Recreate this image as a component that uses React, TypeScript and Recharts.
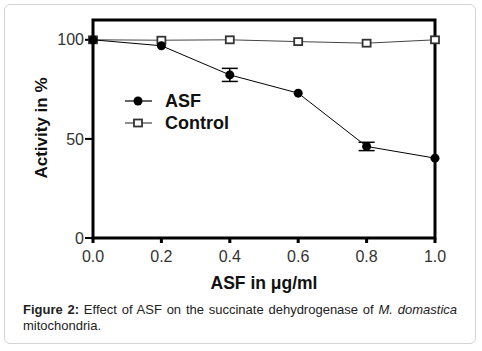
import React from "react";
import {
  LineChart,
  Line,
  XAxis,
  YAxis,
  ErrorBar,
  ReferenceArea,
  Legend,
  Label,
} from "recharts";

const doses = [0.0, 0.2, 0.4, 0.6, 0.8, 1.0];
const asfActivity = [100, 97, 82.3, 73.1, 46.2, 40.3];
const asfError = [0, 0, 3.3, 0, 2.1, 0];
const controlActivity = [100, 99.8, 100, 99.1, 98.3, 100];
const xTicks = [0, 0.2, 0.4, 0.6, 0.8, 1.0];
const yTicks = [0, 50, 100];

const data = doses.map((d, i) => ({
  dose: d,
  asf: asfActivity[i],
  asfErr: asfError[i],
  control: controlActivity[i],
}));

const FONT = '"Liberation Sans", Arial, sans-serif';

const SquareDot = (props: any) => {
  const { cx, cy, index } = props;
  if (cx == null || cy == null) return null;
  return (
    <rect
      key={`sq-${index}`}
      x={cx - 4}
      y={cy - 3.5}
      width={8}
      height={7}
      fill="#fff"
      stroke="#333"
      strokeWidth={1.8}
    />
  );
};

const LegendBox = () => {
  const rows = [
    { name: "ASF", square: false },
    { name: "Control", square: true },
  ];
  return (
    <div style={{ fontFamily: FONT }}>
      {rows.map((r) => (
        <div key={r.name} style={{ display: "flex", alignItems: "center", height: 22 }}>
          <svg width={30} height={12} style={{ marginRight: 11 }}>
            <line x1={1} y1={6} x2={28} y2={6} stroke={r.square ? "#444" : "#000"} strokeWidth={1.2} />
            {r.square ? (
              <rect x={10} y={2.5} width={8} height={7} fill="#fff" stroke="#333" strokeWidth={1.8} />
            ) : (
              <circle cx={14} cy={6} r={4.5} fill="#000" />
            )}
          </svg>
          <span style={{ fontWeight: "bold", fontSize: 18, color: "#111" }}>{r.name}</span>
        </div>
      ))}
    </div>
  );
};

const YTitle = (props: any) => {
  const vb = props.viewBox || { x: 0, y: 20, width: 93, height: 218 };
  const cx = vb.x + 47;
  const cy = vb.y + vb.height / 2 - 1;
  return (
    <text
      x={cx}
      y={cy}
      transform={`rotate(-90 ${cx} ${cy})`}
      textAnchor="middle"
      fontFamily={FONT}
      fontWeight="bold"
      fontSize={17}
      fill="#111"
    >
      Activity in %
    </text>
  );
};

const XTitle = (props: any) => {
  const vb = props.viewBox || { x: 93, y: 238, width: 342, height: 62 };
  return (
    <text
      x={vb.x + vb.width / 2}
      y={vb.y + 51}
      textAnchor="middle"
      fontFamily={FONT}
      fontWeight="bold"
      fontSize={17.5}
      fill="#111"
    >
      ASF in μg/ml
    </text>
  );
};

export default function App() {
  return (
    <div style={{ position: "absolute", left: 0, top: 0, width: 482, height: 351, background: "#fff" }}>
      <div
        style={{
          position: "absolute",
          left: 4,
          top: 4,
          width: 470,
          height: 338,
          border: "1px solid #d4d4d4",
          borderRadius: 6,
        }}
      />
      <div style={{ position: "absolute", left: 0, top: 0 }}>
        <LineChart width={482} height={300} data={data} margin={{ top: 20, right: 47, left: 0, bottom: 0 }}>
          <ReferenceArea
            x1={0}
            x2={1}
            y1={0}
            y2={110}
            fill="none"
            fillOpacity={0}
            stroke="#000"
            strokeWidth={3}
          />
          <XAxis
            dataKey="dose"
            type="number"
            domain={[0, 1]}
            ticks={xTicks}
            tickFormatter={(v: number) => v.toFixed(1)}
            axisLine={false}
            tickLine={{ stroke: "#000", strokeWidth: 3 }}
            tickSize={5}
            tickMargin={8}
            tick={{ fill: "#333", fontSize: 16, fontFamily: FONT }}
            height={62}
            interval={0}
          >
            <Label content={<XTitle />} />
          </XAxis>
          <YAxis
            type="number"
            domain={[0, 110]}
            ticks={yTicks}
            axisLine={false}
            tickLine={{ stroke: "#000", strokeWidth: 2 }}
            tickSize={8}
            tickMargin={1}
            tick={{ fill: "#333", fontSize: 16, fontFamily: FONT }}
            width={93}
            interval={0}
          >
            <Label content={<YTitle />} />
          </YAxis>
          <Line
            dataKey="control"
            stroke="#444"
            strokeWidth={1}
            dot={<SquareDot />}
            isAnimationActive={false}
          />
          <Line
            dataKey="asf"
            stroke="#000"
            strokeWidth={1}
            dot={{ r: 4.5, fill: "#000", stroke: "#000", strokeWidth: 0 }}
            isAnimationActive={false}
          >
            <ErrorBar dataKey="asfErr" width={8} stroke="#000" strokeWidth={1.5} direction="y" />
          </Line>
          <Legend
            layout="vertical"
            align="center"
            verticalAlign="middle"
            content={<LegendBox />}
            wrapperStyle={{ left: 124, top: 90, width: 160, height: 44 }}
          />
        </LineChart>
      </div>
      <div
        style={{
          position: "absolute",
          left: 23,
          top: 302,
          width: 434,
          fontFamily: FONT,
          fontSize: 13,
          lineHeight: "16px",
          color: "#222",
          textAlign: "justify",
        }}
      >
        <b>Figure 2:</b> Effect of ASF on the succinate dehydrogenase of <i>M. domastica</i> mitochondria.
      </div>
    </div>
  );
}
